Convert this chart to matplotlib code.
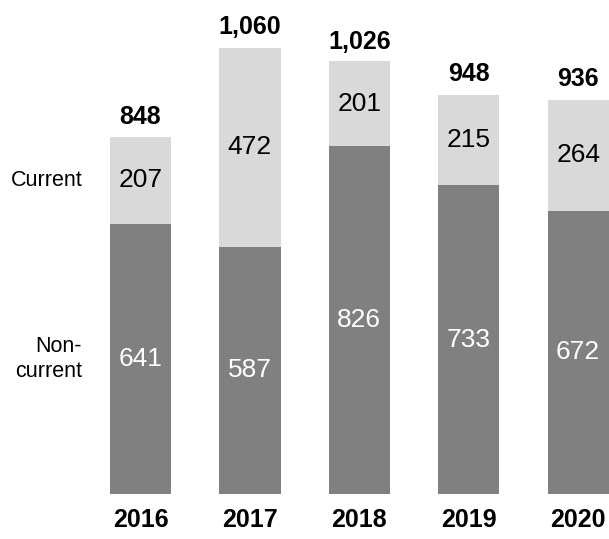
import numpy as np
import matplotlib
matplotlib.use("Agg")
import matplotlib.pyplot as plt

years = ["2016", "2017", "2018", "2019", "2020"]
non_current = [641, 587, 826, 733, 672]
current = [207, 472, 201, 215, 264]
totals = [848, 1060, 1026, 948, 936]

DARK = "#808080"
LIGHT = "#d9d9d9"
FONT = "Liberation Sans"

fig = plt.figure(figsize=(6.09, 5.39), dpi=100)
ax = fig.add_axes([0, 0, 1, 1])
ax.axis("off")

x = np.arange(len(years))
width = 0.56
ax.bar(x, non_current, width, color=DARK)
ax.bar(x, current, width, bottom=non_current, color=LIGHT)

for i in range(len(years)):
    ax.text(x[i], non_current[i] / 2, str(non_current[i]), ha="center", va="center",
            color="white", fontsize=19, family=FONT)
    ax.text(x[i], non_current[i] + current[i] / 2, str(current[i]), ha="center", va="center",
            color="black", fontsize=19, family=FONT)
    ax.annotate(f"{totals[i]:,}", (x[i], totals[i]), xytext=(0, 6), textcoords="offset points",
                ha="center", va="bottom", fontsize=18, fontweight="bold", family=FONT)
    ax.annotate(years[i], (x[i], 0), xytext=(0, -10), textcoords="offset points",
                ha="center", va="top", fontsize=18, fontweight="bold", family=FONT)

# row labels to the left of the first bar
ax.annotate("Current", (x[0], non_current[0] + current[0] / 2), xytext=(-42, 0),
            textcoords="offset points", ha="right", va="center", fontsize=15.5, family=FONT)
ax.annotate("Non-\ncurrent", (x[0], non_current[0] / 2), xytext=(-42, 0),
            textcoords="offset points", ha="right", va="center", fontsize=15.5, family=FONT,
            multialignment="right", linespacing=1.3)

ax.set_xlim(-1.284, 4.282)
ax.set_ylim(-106.9, 1173)

fig.savefig("out.png")
